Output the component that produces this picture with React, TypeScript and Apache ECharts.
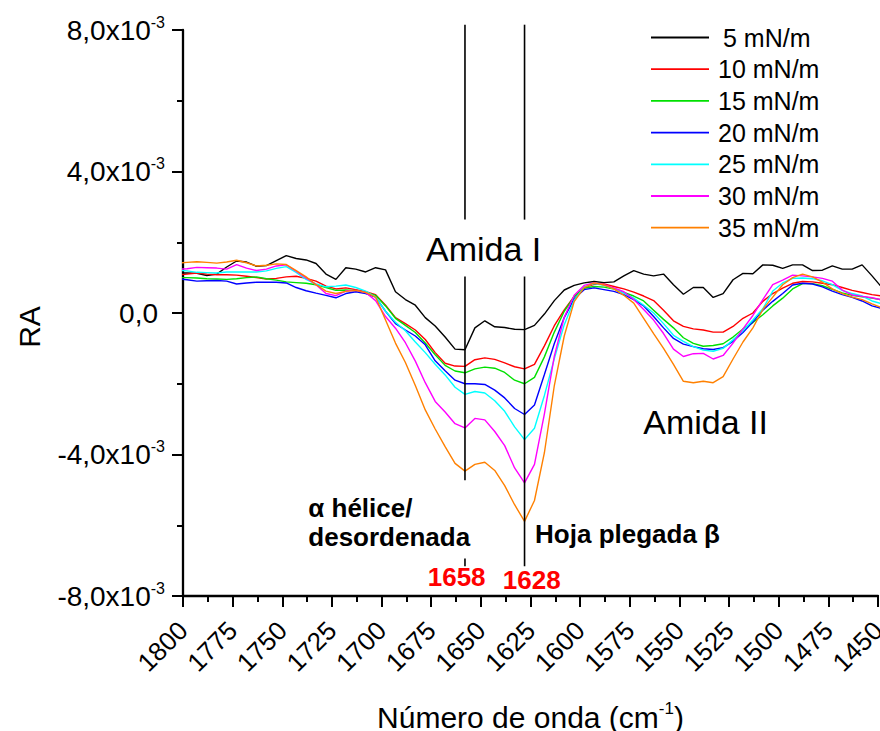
import React, { useEffect, useRef } from "react";
import * as echarts from "echarts";

// Wavenumber grid (cm-1)
const wavenumbers = [
  1803, 1798, 1793, 1788, 1783, 1778, 1773, 1768, 1763, 1758,
  1753, 1748, 1743, 1738, 1733, 1728, 1723, 1718, 1713, 1708,
  1703, 1698, 1693, 1688, 1683, 1678, 1673, 1668, 1663, 1658,
  1653, 1648, 1643, 1638, 1633, 1628, 1623, 1618, 1613, 1608,
  1603, 1598, 1593, 1588, 1583, 1578, 1573, 1568, 1563, 1558,
  1553, 1548, 1543, 1538, 1533, 1528, 1523, 1518, 1513, 1508,
  1503, 1498, 1493, 1488, 1483, 1478, 1473, 1468, 1463, 1458,
  1453, 1448,
];

// RA values in units of 10^-3
const ra5 = [
  1.13, 1.13, 1.12, 1.06, 1.10, 1.30, 1.47, 1.44, 1.32, 1.34,
  1.48, 1.62, 1.54, 1.50, 1.40, 1.10, 0.95, 1.28, 1.24, 1.16,
  1.28, 1.22, 0.60, 0.38, 0.22, -0.13, -0.37, -0.68, -1.02, -1.04,
  -0.42, -0.22, -0.39, -0.41, -0.46, -0.47, -0.35, -0.03, 0.35, 0.65,
  0.78, 0.85, 0.89, 0.86, 0.88, 1.05, 1.20, 1.10, 1.05, 1.10,
  0.80, 0.53, 0.72, 0.72, 0.44, 0.55, 0.94, 1.12, 1.11, 1.36,
  1.35, 1.26, 1.36, 1.36, 1.20, 1.21, 1.33, 1.24, 1.24, 1.36,
  1.05, 0.72,
];
const ra10 = [
  1.08, 1.10, 1.13, 1.10, 1.08, 1.08, 1.07, 1.04, 1.00, 0.96,
  0.98, 1.02, 1.04, 0.98, 0.90, 0.76, 0.68, 0.71, 0.66, 0.60,
  0.52, 0.22, -0.13, -0.30, -0.48, -0.75, -1.12, -1.42, -1.50, -1.51,
  -1.32, -1.27, -1.31, -1.41, -1.52, -1.58, -1.45, -0.93, -0.36, 0.09,
  0.47, 0.72, 0.81, 0.82, 0.75, 0.68, 0.59, 0.48, 0.35, 0.08,
  -0.22, -0.38, -0.45, -0.48, -0.54, -0.54, -0.38, -0.15, 0.00, 0.33,
  0.55, 0.70, 0.84, 0.89, 0.88, 0.84, 0.80, 0.72, 0.64, 0.58,
  0.52, 0.48,
];
const ra15 = [
  1.00, 1.00, 0.99, 0.97, 0.96, 0.95, 0.97, 1.00, 1.02, 0.97,
  0.93, 0.88, 0.86, 0.84, 0.80, 0.72, 0.64, 0.65, 0.63, 0.58,
  0.50, 0.20, -0.15, -0.35, -0.55, -0.85, -1.18, -1.48, -1.64, -1.69,
  -1.58, -1.53, -1.56, -1.68, -1.90, -2.00, -1.82, -1.24, -0.54, 0.05,
  0.46, 0.70, 0.75, 0.73, 0.68, 0.58, 0.48, 0.34, 0.08, -0.18,
  -0.42, -0.70, -0.86, -0.94, -0.92, -0.87, -0.68, -0.45, -0.27, -0.05,
  0.20, 0.42, 0.68, 0.83, 0.83, 0.77, 0.67, 0.57, 0.50, 0.46,
  0.42, 0.37,
];
const ra20 = [
  0.97, 0.94, 0.90, 0.91, 0.92, 0.90, 0.82, 0.85, 0.87, 0.87,
  0.87, 0.85, 0.72, 0.63, 0.56, 0.50, 0.43, 0.55, 0.60, 0.55,
  0.45, 0.05, -0.30, -0.48, -0.65, -0.90, -1.35, -1.63, -1.90, -2.00,
  -2.00, -2.02, -2.18, -2.40, -2.70, -2.87, -2.60, -1.74, -0.86, -0.13,
  0.40, 0.66, 0.71, 0.66, 0.61, 0.52, 0.38, 0.20, -0.10, -0.42,
  -0.72, -0.88, -0.95, -1.01, -1.03, -0.98, -0.80, -0.55, -0.25, 0.08,
  0.33, 0.55, 0.79, 0.84, 0.82, 0.74, 0.62, 0.52, 0.44, 0.34,
  0.20, 0.13,
];
const ra25 = [
  1.21, 1.19, 1.15, 1.14, 1.13, 1.16, 1.16, 1.16, 1.16, 1.19,
  1.26, 1.31, 1.15, 0.95, 0.82, 0.74, 0.76, 0.79, 0.72, 0.62,
  0.45, 0.05, -0.26, -0.50, -0.82, -1.12, -1.45, -1.75, -2.10, -2.30,
  -2.22, -2.26, -2.48, -2.78, -3.22, -3.58, -3.26, -2.33, -1.29, -0.33,
  0.36, 0.74, 0.83, 0.78, 0.68, 0.56, 0.42, 0.22, 0.00, -0.30,
  -0.63, -0.80, -0.95, -1.05, -1.08, -1.00, -0.76, -0.50, -0.20, 0.12,
  0.62, 0.85, 0.98, 0.99, 0.97, 0.91, 0.80, 0.64, 0.55, 0.48,
  0.34, 0.26,
];
const ra30 = [
  1.24, 1.25, 1.29, 1.28, 1.27, 1.24, 1.37, 1.27, 1.20, 1.24,
  1.33, 1.36, 1.18, 0.99, 0.80, 0.55, 0.49, 0.62, 0.64, 0.58,
  0.35, -0.10, -0.43, -0.84, -1.36, -1.97, -2.50, -2.80, -3.13, -3.25,
  -2.98, -3.02, -3.35, -3.75, -4.38, -4.80, -4.28, -2.85, -1.22, -0.12,
  0.50, 0.78, 0.85, 0.80, 0.71, 0.60, 0.38, 0.10, -0.20, -0.58,
  -1.02, -1.23, -1.15, -1.14, -1.30, -1.20, -0.85, -0.45, -0.07, 0.38,
  0.80, 0.93, 1.07, 1.05, 1.02, 0.98, 0.90, 0.65, 0.51, 0.47,
  0.43, 0.37,
];
const ra35 = [
  1.41, 1.43, 1.45, 1.43, 1.41, 1.44, 1.49, 1.42, 1.33, 1.35,
  1.39, 1.37, 1.20, 1.02, 0.80, 0.62, 0.55, 0.61, 0.64, 0.58,
  0.45, -0.20, -0.85, -1.40, -2.05, -2.74, -3.28, -3.78, -4.25, -4.47,
  -4.28, -4.22, -4.45, -4.88, -5.42, -5.89, -5.30, -3.95, -2.05, -0.65,
  0.32, 0.72, 0.85, 0.79, 0.68, 0.50, 0.28, -0.15, -0.58, -1.00,
  -1.45, -1.93, -1.97, -1.93, -1.97, -1.80, -1.30, -0.82, -0.42, 0.10,
  0.45, 0.80, 1.00, 1.10, 1.02, 0.87, 0.68, 0.55, 0.45, 0.38,
  0.26, 0.15,
];

const seriesNames = ["5 mN/m", "10 mN/m", "15 mN/m", "20 mN/m", "25 mN/m", "30 mN/m", "35 mN/m"];
const seriesValues = [ra5, ra10, ra15, ra20, ra25, ra30, ra35];
const seriesColors = ["#000000", "#FF0000", "#00E000", "#0000FF", "#00FFFF", "#FF00FF", "#FF8000"];

// Axes
const xMin = 1450;
const xMax = 1800;
const xStep = 25;
const yMin = -8;
const yMax = 8;
const yStep = 4;
const yExponent = "-3";

// Band positions (cm-1)
const bandPositions = [1658, 1628];
const bandLabels = ["1658", "1628"];

const FONT = "'Liberation Sans', Arial, Helvetica, sans-serif";

export default function App() {
  const ref = useRef<HTMLDivElement>(null);

  useEffect(() => {
    document.body.style.margin = "0";
    const chart = echarts.init(ref.current!, null, { renderer: "svg" });

    const option: any = {
      animation: false,
      textStyle: { fontFamily: FONT },
      grid: {
        left: 183,
        right: 2,
        top: 30,
        bottom: 135,
        containLabel: false,
        outerBoundsMode: "none",
      },
      legend: {
        orient: "vertical",
        left: 651,
        top: 25,
        padding: 0,
        align: "left",
        icon: "rect",
        itemWidth: 58,
        itemHeight: 1.8,
        itemGap: 6.7,
        data: seriesNames,
        formatter: (name: string) => (name === seriesNames[0] ? `{b|${name}}` : `{a|${name}}`),
        textStyle: {
          color: "#000",
          fontSize: 25,
          fontFamily: FONT,
          rich: {
            a: { fontSize: 25, lineHeight: 25, padding: [0, 0, 0, 4], color: "#000", fontFamily: FONT },
            b: { fontSize: 25, lineHeight: 25, padding: [0, 0, 0, 9], color: "#000", fontFamily: FONT },
          },
        },
      },
      xAxis: {
        type: "value",
        inverse: true,
        min: xMin,
        max: xMax,
        interval: xStep,
        position: "bottom",
        axisLine: { show: true, onZero: false, lineStyle: { color: "#000", width: 2.3 } },
        axisTick: { show: true, inside: false, length: 11, lineStyle: { color: "#000", width: 2 } },
        minorTick: { show: true, splitNumber: 2, length: 6, lineStyle: { color: "#000", width: 2 } },
        splitLine: { show: false },
        minorSplitLine: { show: false },
        axisLabel: {
          show: true,
          rotate: 45,
          margin: 30,
          color: "#000",
          fontSize: 26,
          fontFamily: FONT,
          hideOverlap: false,
          formatter: (v: number) => String(v),
        },
        name: "{t|Número de onda (cm}{s|-1}{t|)}",
        nameLocation: "middle",
        nameGap: 104,
        nameTextStyle: {
          color: "#000",
          rich: {
            t: { fontSize: 30, lineHeight: 34, color: "#000", fontFamily: FONT },
            s: { fontSize: 17, lineHeight: 17, verticalAlign: "top", color: "#000", fontFamily: FONT },
          },
        },
      },
      yAxis: {
        type: "value",
        min: yMin,
        max: yMax,
        interval: yStep,
        axisLine: { show: true, onZero: false, lineStyle: { color: "#000", width: 2.3 } },
        axisTick: { show: true, inside: false, length: 11, lineStyle: { color: "#000", width: 2 } },
        minorTick: { show: true, splitNumber: 2, length: 6, lineStyle: { color: "#000", width: 2 } },
        splitLine: { show: false },
        minorSplitLine: { show: false },
        axisLabel: {
          show: true,
          margin: 18,
          color: "#000",
          formatter: (v: number) =>
            v === 0
              ? "{z|0,0}"
              : `{n|${v.toFixed(1).replace(".", ",")}x10}{s|${yExponent}}`,
          rich: {
            n: { fontSize: 28, lineHeight: 32, color: "#000", fontFamily: FONT },
            z: { fontSize: 28, lineHeight: 32, color: "#000", fontFamily: FONT, padding: [0, 7, 0, 0] },
            s: { fontSize: 16, lineHeight: 16, verticalAlign: "top", color: "#000", fontFamily: FONT },
          },
        },
      },
      series: seriesValues.map((vals, i) => ({
        name: seriesNames[i],
        type: "line",
        data: wavenumbers.map((w, j) => [w, vals[j]]),
        showSymbol: false,
        symbol: "none",
        clip: true,
        lineStyle: { color: seriesColors[i], width: 1.4 },
        itemStyle: { color: seriesColors[i] },
        emphasis: { disabled: true },
      })),
    };

    chart.setOption(option);

    const px = (w: number, v: number) => chart.convertToPixel({ gridIndex: 0 }, [w, v]) as number[];

    // vertical band markers: segments in data units (RA x10^-3)
    const bandSegments = [
      [[8.15, 2.64], [1.03, -4.73], [-6.94, -7.16]],
      [[8.15, 2.64], [1.03, -7.16]],
    ];

    const elements: any[] = [];
    bandPositions.forEach((w, i) => {
      bandSegments[i].forEach(([a, b]) => {
        const p1 = px(w, a);
        const p2 = px(w, b);
        elements.push({
          type: "line",
          z: 100,
          silent: true,
          shape: { x1: p1[0], y1: p1[1], x2: p2[0], y2: p2[1] },
          style: { stroke: "#000", lineWidth: 1.6 },
        });
      });
    });

    const annotations = [
      { text: "Amida I", at: [1648.6, 1.8], size: 34, weight: "normal", color: "#000", align: "center" },
      { text: "Amida II", at: [1536.8, -3.08], size: 34, weight: "normal", color: "#000", align: "center" },
      { text: "α hélice/\ndesordenada", at: [1736.9, -5.91], size: 26, weight: "bold", color: "#000", align: "left" },
      { text: "Hoja plegada β", at: [1622.7, -6.26], size: 26, weight: "bold", color: "#000", align: "left" },
      { text: bandLabels[0], at: [1662.2, -7.46], size: 26, weight: "bold", color: "#FF0000", align: "center" },
      { text: bandLabels[1], at: [1624.4, -7.56], size: 26, weight: "bold", color: "#FF0000", align: "center" },
    ];
    annotations.forEach((a) => {
      const p = px(a.at[0], a.at[1]);
      elements.push({
        type: "text",
        z: 101,
        silent: true,
        x: p[0],
        y: p[1],
        style: {
          text: a.text,
          fill: a.color,
          fontSize: a.size,
          fontWeight: a.weight,
          fontFamily: FONT,
          lineHeight: 29,
          align: a.align,
          verticalAlign: "middle",
        },
      });
    });

    elements.push({
      type: "text",
      z: 101,
      silent: true,
      x: 29,
      y: 327,
      rotation: Math.PI / 2,
      style: {
        text: "RA",
        fill: "#000",
        fontSize: 30,
        fontFamily: FONT,
        align: "center",
        verticalAlign: "middle",
      },
    });

    chart.setOption({ graphic: { elements } });

    return () => {
      chart.dispose();
    };
  }, []);

  return <div ref={ref} style={{ width: 880, height: 731 }} />;
}
